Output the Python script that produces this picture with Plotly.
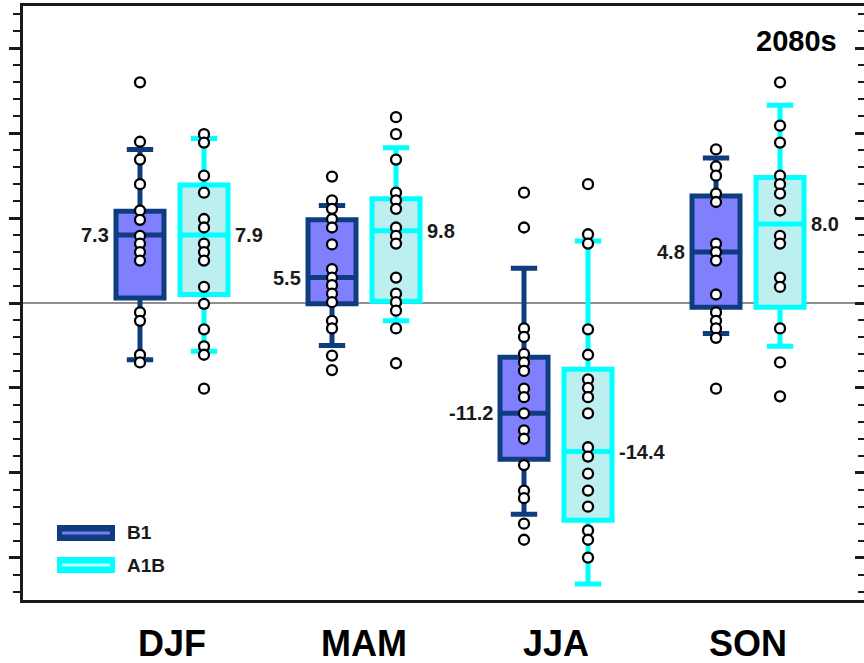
import plotly.graph_objects as go

seasons = ["DJF", "MAM", "JJA", "SON"]
scenarios = ["B1", "A1B"]

# individual model values
b1_points = [
    [26.0, 19.0, 16.9, 14.0, 10.9, 9.8, 7.9, 7.0, 6.0, 5.0, -1.1, -2.1, -6.1, -7.0],
    [14.9, 12.1, 11.1, 9.9, 8.9, 6.9, 4.0, 3.0, 2.1, 1.1, 0.1, -2.1, -3.0, -6.2, -7.9],
    [13.0, 8.9, -3.0, -4.0, -6.0, -7.0, -8.0, -10.1, -11.1, -13.0, -15.0, -16.0, -19.1, -22.1, -23.0, -26.0, -27.9],
    [18.1, 16.1, 15.0, 12.9, 11.9, 7.0, 6.0, 5.0, 1.0, -1.1, -2.1, -3.0, -4.1, -10.1],
]
a1b_points = [
    [19.9, 18.9, 15.0, 13.0, 9.9, 8.9, 7.0, 6.0, 5.0, 1.9, -0.1, -3.1, -5.1, -6.1, -10.1],
    [21.9, 19.9, 16.9, 13.0, 12.1, 11.1, 8.9, 7.9, 7.0, 3.0, 1.1, 0.1, -0.9, -3.0, -7.1],
    [14.0, 8.1, 7.0, -3.1, -6.1, -9.0, -10.0, -11.1, -13.0, -17.0, -18.1, -20.1, -22.1, -24.0, -26.8, -27.9, -30.0],
    [26.0, 20.9, 18.9, 15.0, 14.0, 12.9, 10.9, 7.9, 7.0, 3.0, 1.9, -3.0, -7.0, -11.0],
]

# box statistics
b1_low = [-6.7, -5.0, -24.9, -3.6]
b1_q1 = [0.6, -0.1, -18.4, -0.5]
b1_med = [8.0, 3.0, -13.0, 6.0]
b1_q3 = [10.8, 9.8, -6.4, 12.6]
b1_high = [18.1, 11.5, 4.1, 17.1]

a1b_low = [-5.7, -2.1, -33.1, -5.1]
a1b_q1 = [1.0, 0.2, -25.6, -0.5]
a1b_med = [8.0, 8.5, -17.5, 9.3]
a1b_q3 = [13.9, 12.3, -7.8, 14.8]
a1b_high = [19.4, 18.3, 7.3, 23.3]

b1_labels = ["7.3", "5.5", "-11.2", "4.8"]
a1b_labels = ["7.9", "9.8", "-14.4", "8.0"]

title_text = "2080s"

FONT = "Arial, Liberation Sans, sans-serif"
INK = "#1a1a1a"
OFF = 0.1667
BOXW = 0.25

series = [
    dict(name="B1", off=-OFF, pts=b1_points, low=b1_low, q1=b1_q1, med=b1_med, q3=b1_q3,
         high=b1_high, labels=b1_labels, line="#0f3c7e", fill="#8080ff", inner="#7a7af5"),
    dict(name="A1B", off=OFF, pts=a1b_points, low=a1b_low, q1=a1b_q1, med=a1b_med, q3=a1b_q3,
         high=a1b_high, labels=a1b_labels, line="#00ffff", fill="#bdeef0", inner="#c6f6f6"),
]

fig = go.Figure()
annotations = []
for s in series:
    xs = [i + s["off"] for i in range(len(seasons))]
    fig.add_trace(go.Box(
        x=xs, q1=s["q1"], median=s["med"], q3=s["q3"],
        lowerfence=s["low"], upperfence=s["high"],
        width=BOXW, whiskerwidth=0.55, boxpoints=False,
        line=dict(color=s["line"], width=5), fillcolor=s["fill"],
        name=s["name"], showlegend=False, hoverinfo="skip",
    ))
for s in series:
    for i, pts in enumerate(s["pts"]):
        x = i + s["off"]
        fig.add_trace(go.Scatter(
            x=[x] * len(pts), y=pts, mode="markers",
            marker=dict(size=10, color="white", line=dict(color="black", width=2.3)),
            showlegend=False, hoverinfo="skip",
        ))
        left = s["off"] < 0
        annotations.append(dict(
            x=x - BOXW / 2 if left else x + BOXW / 2, y=s["med"][i],
            xref="x", yref="y", text=s["labels"][i], showarrow=False,
            xanchor="right" if left else "left", yanchor="middle",
            xshift=-5 if left else 5,
            font=dict(family=FONT, size=20, color=INK, weight="bold"),
        ))

# invisible trace to host the right-hand tick axis
fig.add_trace(go.Scatter(x=[], y=[], yaxis="y2", showlegend=False, hoverinfo="skip"))

annotations.append(dict(
    x=0.92, y=0.941, xref="paper", yref="paper", text=title_text, showarrow=False,
    xanchor="center", yanchor="middle",
    font=dict(family=FONT, size=29, color="black", weight="bold"),
))

# hand-drawn legend (thick line swatches)
shapes = []
leg_rows = [(0.1128, series[0]), (0.0589, series[1])]
for yc, s in leg_rows:
    shapes.append(dict(type="rect", xref="paper", yref="paper",
                       x0=0.0404, x1=0.1094, y0=yc - 0.0135, y1=yc + 0.0135,
                       fillcolor=s["line"], line=dict(width=0), layer="above"))
    shapes.append(dict(type="line", xref="paper", yref="paper",
                       x0=0.0464, x1=0.1034, y0=yc, y1=yc,
                       line=dict(color=s["inner"], width=3), layer="above"))
    annotations.append(dict(
        x=0.1213, y=yc, xref="paper", yref="paper", text=s["name"], showarrow=False,
        xanchor="left", yanchor="middle",
        font=dict(family=FONT, size=19, color=INK, weight="bold"),
    ))

fig.update_layout(
    width=864, height=663,
    margin=dict(l=23, r=0, t=6, b=63),
    paper_bgcolor="white", plot_bgcolor="white",
    showlegend=False,
    annotations=annotations,
    shapes=shapes,
    xaxis=dict(
        range=[-0.776, 3.604], tickvals=list(range(len(seasons))), ticktext=seasons,
        ticks="", showgrid=False, zeroline=False,
        showline=True, mirror=True, linecolor=INK, linewidth=2.5,
        tickfont=dict(family=FONT, size=36, color="black", weight="bold"),
        ticklabelstandoff=10,
    ),
    yaxis=dict(
        range=[-35, 35], tick0=0, dtick=10, showticklabels=False,
        ticks="outside", ticklen=11, tickwidth=2.5, tickcolor=INK,
        minor=dict(dtick=2, ticks="outside", ticklen=7, tickwidth=2, tickcolor=INK),
        showgrid=False, zeroline=True, zerolinecolor="#8f8f8f", zerolinewidth=2,
        showline=True, linecolor=INK, linewidth=2.5,
    ),
    yaxis2=dict(
        overlaying="y", side="right", range=[-35, 35], tick0=0, dtick=10,
        showticklabels=False, ticks="inside", ticklen=9, tickwidth=2.5, tickcolor=INK,
        minor=dict(dtick=2, ticks="inside", ticklen=6, tickwidth=2, tickcolor=INK),
        showgrid=False, zeroline=False, showline=False,
    ),
)

fig.write_html("out.html")
